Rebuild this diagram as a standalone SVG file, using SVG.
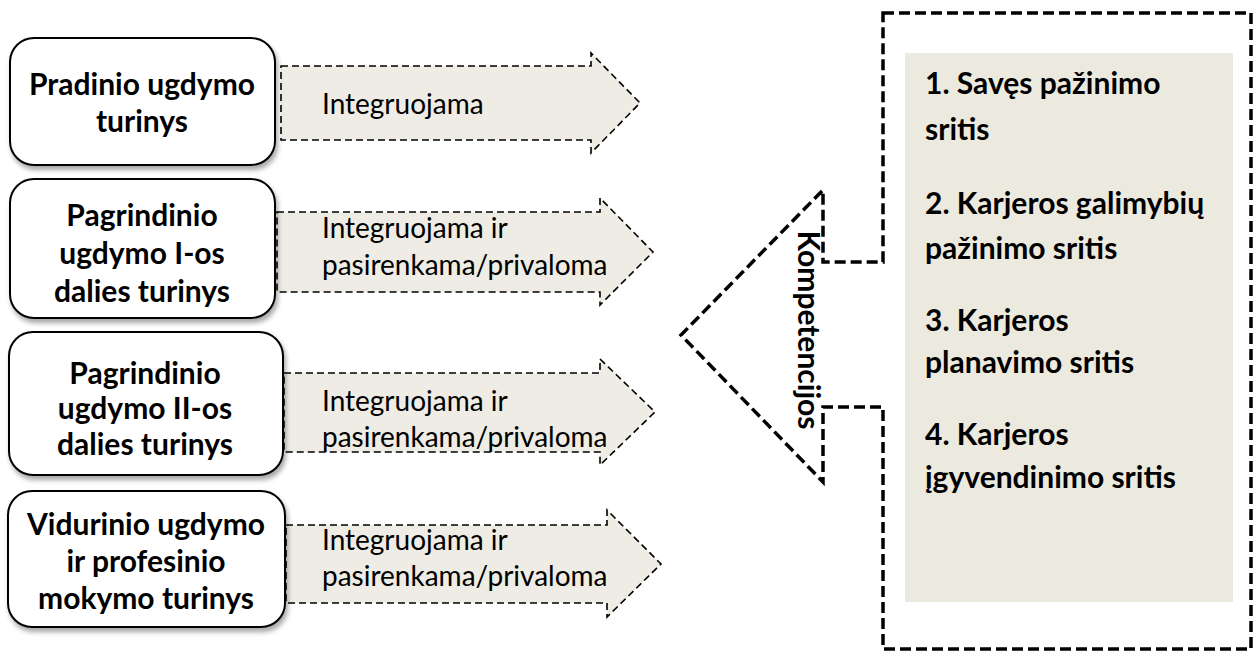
<svg xmlns="http://www.w3.org/2000/svg" width="1258" height="660" viewBox="0 0 1258 660">
<defs>
<filter id="sh" x="-10%" y="-10%" width="125%" height="130%">
<feDropShadow dx="2" dy="4" stdDeviation="2.5" flood-color="#000" flood-opacity="0.35"/>
</filter>
<style>
.box{fill:#fff;stroke:#000;stroke-width:2;filter:url(#sh)}
.bt{font-family:Lato,"Liberation Sans",sans-serif;font-weight:700;font-size:30px;fill:#000;text-anchor:middle}
.arr{fill:#EEECE4;stroke:#000;stroke-width:1.6;stroke-dasharray:7 4}
.at{font-family:Lato,"Liberation Sans",sans-serif;font-size:28px;fill:#000}
.big{fill:none;stroke:#000;stroke-width:3.5;stroke-dasharray:11 5}
.rt{font-family:Lato,"Liberation Sans",sans-serif;font-weight:700;font-size:30px;fill:#000}
</style>
</defs>
<rect width="1258" height="660" fill="#fff"/>
<g id="connectors">
<g id="arrow1">
<path class="arr" d="M281,66 H591 V53 L640,103 L591,153 V140 H281 Z"/>
<text class="at" x="322" y="114">Integruojama</text>
</g>
<g id="arrow2">
<path class="arr" d="M277,212 H600 V198 L653,252 L600,305 V292 H277 Z"/>
<text class="at" x="322" y="238">Integruojama ir</text>
<text class="at" x="322" y="275">pasirenkama/privaloma</text>
</g>
<g id="arrow3">
<path class="arr" d="M284,373 H600 V359 L655,412 L600,465 V452 H284 Z"/>
<text class="at" x="322" y="411">Integruojama ir</text>
<text class="at" x="322" y="447">pasirenkama/privaloma</text>
</g>
<g id="arrow4">
<path class="arr" d="M286,525 H607 V510 L661,564 L607,617 V603 H286 Z"/>
<text class="at" x="322" y="550">Integruojama ir</text>
<text class="at" x="322" y="586">pasirenkama/privaloma</text>
</g>
</g>
<g id="node1">
<rect class="box" x="10" y="38" width="265" height="127" rx="24"/>
<text class="bt" x="142" y="95">Pradinio ugdymo</text>
<text class="bt" x="142" y="132">turinys</text>
</g>
<g id="node2">
<rect class="box" x="10" y="179" width="265" height="139" rx="24"/>
<text class="bt" x="142" y="226">Pagrindinio</text>
<text class="bt" x="142" y="264">ugdymo I-os</text>
<text class="bt" x="142" y="302">dalies turinys</text>
</g>
<g id="node3">
<rect class="box" x="9" y="332" width="274" height="143" rx="24"/>
<text class="bt" x="145" y="384">Pagrindinio</text>
<text class="bt" x="145" y="419">ugdymo II-os</text>
<text class="bt" x="145" y="455">dalies turinys</text>
</g>
<g id="node4">
<rect class="box" x="8" y="491" width="277" height="136" rx="24"/>
<text class="bt" x="146" y="535">Vidurinio ugdymo</text>
<text class="bt" x="146" y="572">ir profesinio</text>
<text class="bt" x="146" y="609">mokymo turinys</text>
</g>
<g id="competencies">
<path class="big" d="M883,13 H1251 V649 H883 V407 H823 V482 L681,335 L823,190 V262 H883 Z"/>
<text class="rt" transform="translate(798,330) rotate(90)" text-anchor="middle">Kompetencijos</text>
</g>
<g id="areas">
<rect x="905" y="53" width="328" height="549" fill="#ECE9DF"/>
<text class="rt" x="925" y="94">1. Savęs pažinimo</text>
<text class="rt" x="925" y="140">sritis</text>
<text class="rt" x="925" y="214">2. Karjeros galimybių</text>
<text class="rt" x="925" y="259">pažinimo sritis</text>
<text class="rt" x="925" y="331">3. Karjeros</text>
<text class="rt" x="925" y="373">planavimo sritis</text>
<text class="rt" x="925" y="445">4. Karjeros</text>
<text class="rt" x="925" y="488">įgyvendinimo sritis</text>
</g>
</svg>
